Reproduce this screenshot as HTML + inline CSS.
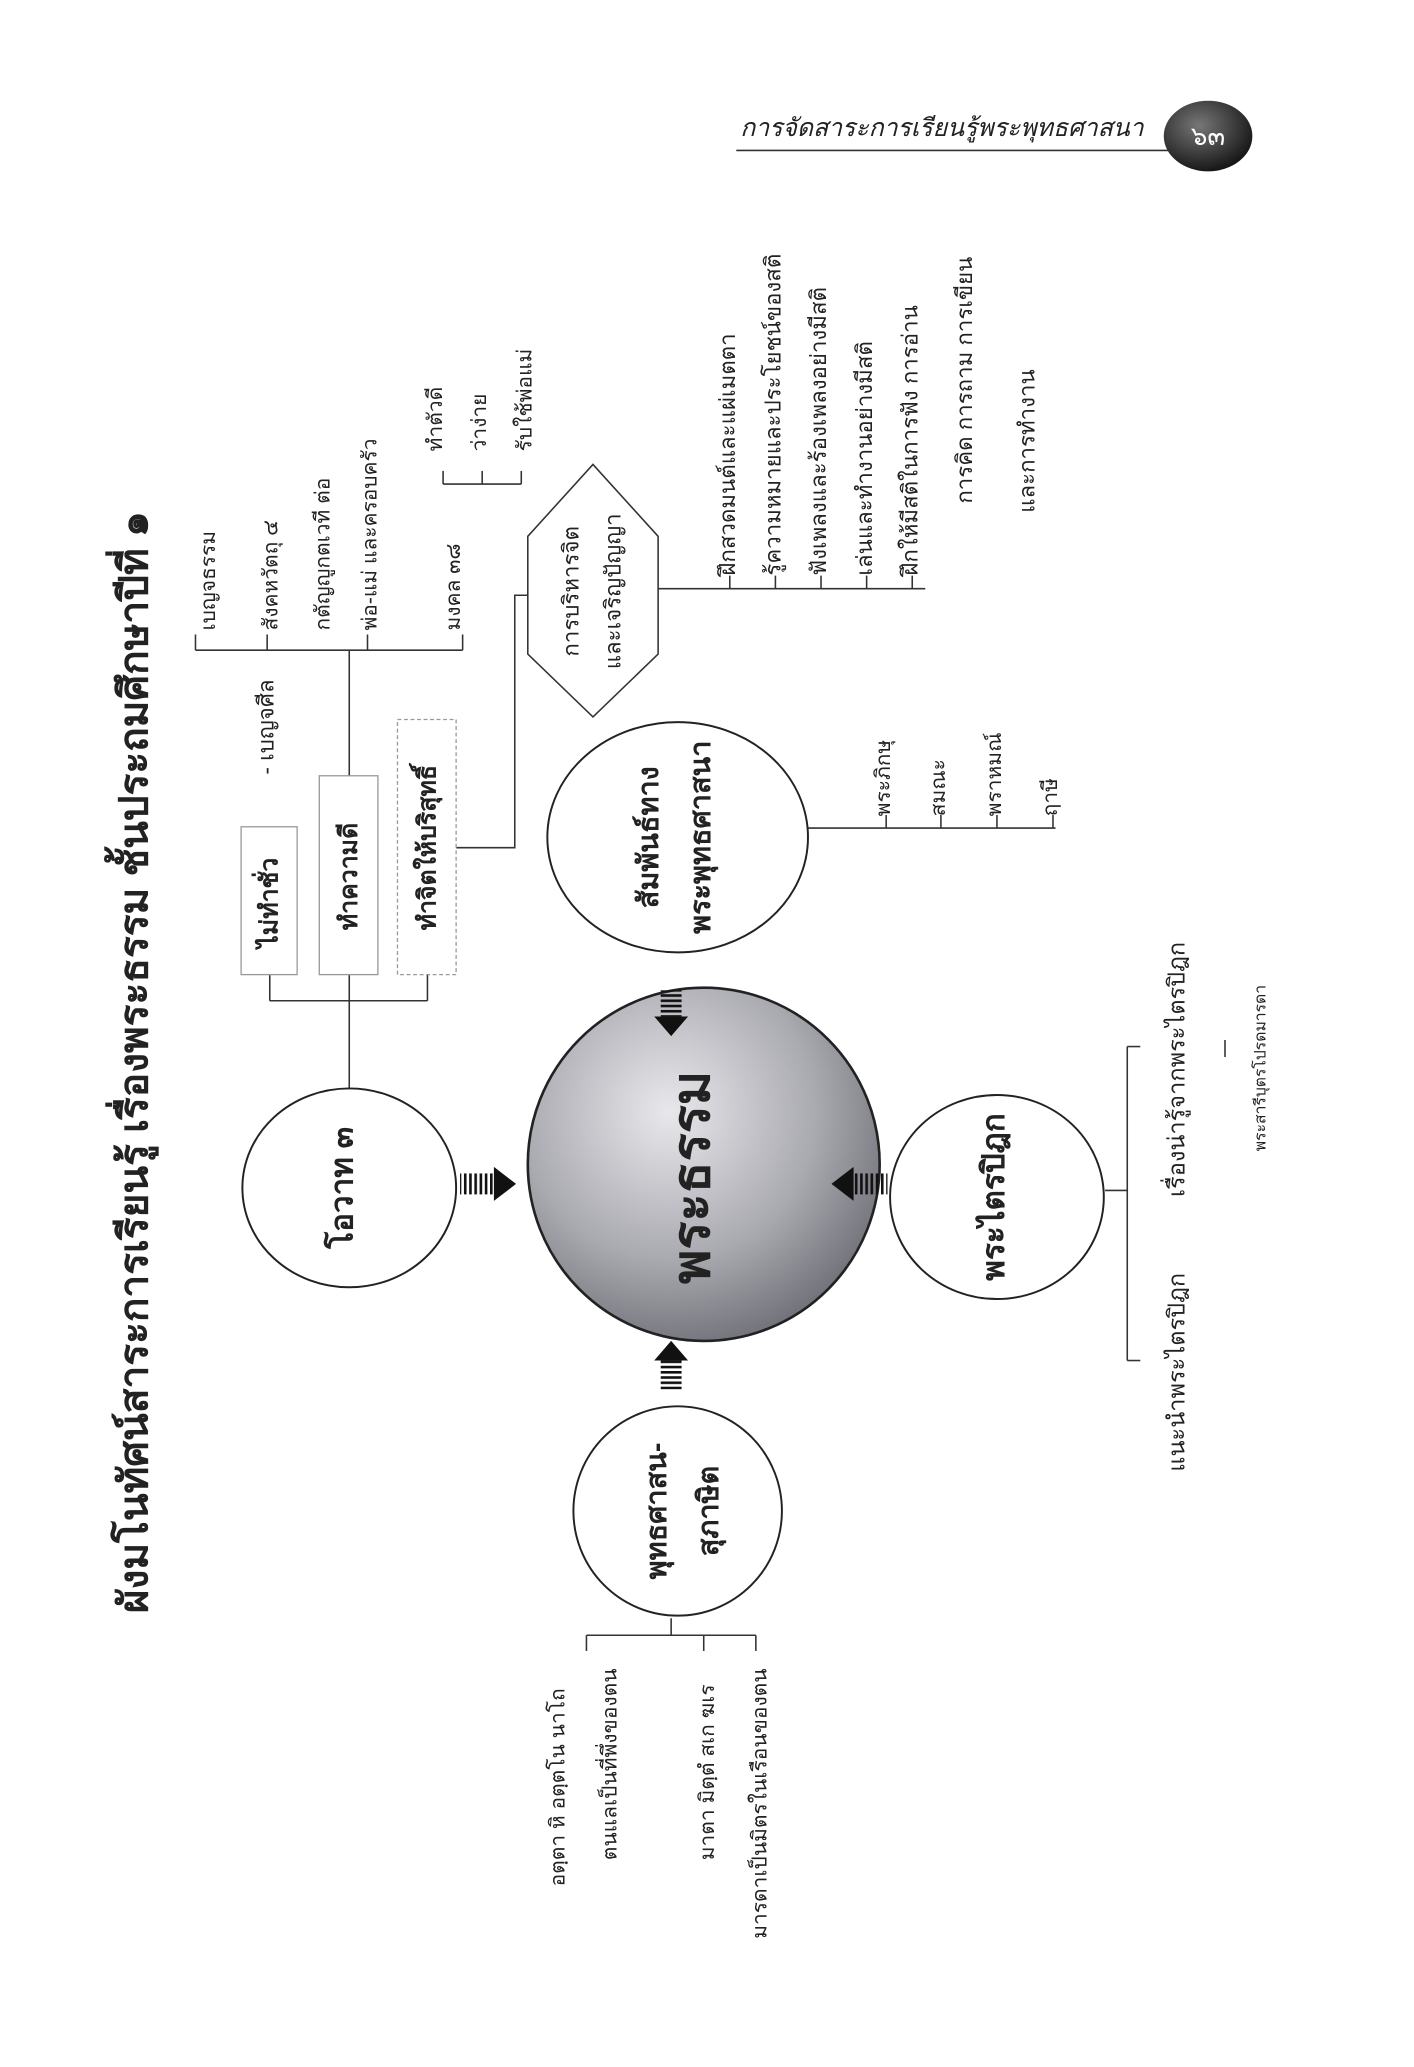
<!DOCTYPE html>
<html><head><meta charset="utf-8"><style>
html,body{margin:0;padding:0;background:#fff;}
#pg{position:relative;width:1414px;height:2067px;overflow:hidden;background:#fff;}
#c{position:absolute;left:0;top:0;width:1085px;height:1580px;transform:scale(1.3032,1.3082);transform-origin:0 0;font-family:"Liberation Sans","Noto Sans CJK SC",sans-serif;color:#222;}
svg{position:absolute;left:0;top:0;}
.t{position:absolute;white-space:nowrap;transform:rotate(-90deg);transform-origin:0 0;font-size:16px;line-height:18px;}
.m{position:absolute;white-space:nowrap;transform:translate(-50%,-50%) rotate(-90deg);text-align:center;font-weight:bold;}
</style></head><body><div id="pg"><div id="c">
<svg width="1085" height="1580" viewBox="0 0 1085 1580">
<defs>
<radialGradient id="g" cx="40%" cy="35%" r="70%"><stop offset="0" stop-color="#e8e8ec"/><stop offset="0.6" stop-color="#a9a9b0"/><stop offset="1" stop-color="#6e6e76"/></radialGradient>
<radialGradient id="g2" cx="40%" cy="35%" r="70%"><stop offset="0" stop-color="#777"/><stop offset="1" stop-color="#111"/></radialGradient>
<pattern id="st" width="4" height="4" patternUnits="userSpaceOnUse"><rect width="2" height="4" fill="#111"/></pattern>
<pattern id="sth" width="4" height="4" patternUnits="userSpaceOnUse"><rect width="4" height="2" fill="#111"/></pattern>
</defs>
<g stroke="#333" stroke-width="1.2" fill="none">
<line x1="565" y1="115" x2="900" y2="115"/>
<line x1="268" y1="833" x2="268" y2="765"/>
<line x1="207" y1="765" x2="328" y2="765"/>
<line x1="207" y1="765" x2="207" y2="745"/><line x1="268" y1="765" x2="268" y2="745"/><line x1="328" y1="765" x2="328" y2="745"/>
<line x1="268" y1="593" x2="268" y2="497"/>
<line x1="150" y1="497" x2="355" y2="497"/>
<line x1="150" y1="497" x2="150" y2="485"/><line x1="205" y1="497" x2="205" y2="485"/><line x1="282" y1="497" x2="282" y2="485"/><line x1="355" y1="497" x2="355" y2="485"/>
<line x1="340" y1="370" x2="400" y2="370"/><line x1="340" y1="370" x2="340" y2="360"/><line x1="370" y1="370" x2="370" y2="360"/><line x1="400" y1="370" x2="400" y2="360"/>
<polyline points="350,648 395,648 395,455 405,455"/>
<line x1="505" y1="450" x2="710" y2="450"/>
<line x1="560" y1="450" x2="560" y2="440"/><line x1="595" y1="450" x2="595" y2="440"/><line x1="630" y1="450" x2="630" y2="440"/><line x1="665" y1="450" x2="665" y2="440"/><line x1="700" y1="450" x2="700" y2="440"/>
<line x1="620" y1="633" x2="810" y2="633"/>
<line x1="680" y1="633" x2="680" y2="623"/><line x1="722" y1="633" x2="722" y2="623"/><line x1="765" y1="633" x2="765" y2="623"/><line x1="808" y1="633" x2="808" y2="623"/>
<line x1="848" y1="910" x2="865" y2="910"/>
<line x1="865" y1="800" x2="865" y2="1040"/>
<line x1="865" y1="800" x2="875" y2="800"/><line x1="865" y1="1040" x2="875" y2="1040"/>
<line x1="940" y1="795" x2="940" y2="808"/>
<line x1="515" y1="1237" x2="515" y2="1250"/>
<line x1="450" y1="1250" x2="580" y2="1250"/>
<line x1="450" y1="1250" x2="450" y2="1262"/><line x1="540" y1="1250" x2="540" y2="1262"/><line x1="580" y1="1250" x2="580" y2="1262"/>
</g>
<ellipse cx="927" cy="104" rx="34" ry="27" fill="url(#g2)"/>
<text x="927" y="111" font-size="20" fill="#fff" text-anchor="middle" font-family="Liberation Sans, Noto Sans CJK SC, sans-serif">๖๓</text>
<rect x="185" y="632" width="43" height="113" fill="#fff" stroke="#999" stroke-width="1"/>
<rect x="245" y="593" width="45" height="152" fill="#fff" stroke="#999" stroke-width="1"/>
<rect x="305" y="550" width="45" height="195" fill="#fff" stroke="#999" stroke-width="1" stroke-dasharray="3,2"/>
<polygon points="455,355 505,410 505,500 455,548 405,500 405,410" fill="#fff" stroke="#333" stroke-width="1.2"/>
<ellipse cx="268" cy="908" rx="82" ry="76" fill="#fff" stroke="#222" stroke-width="1.5"/>
<ellipse cx="520" cy="640" rx="100" ry="88" fill="#fff" stroke="#222" stroke-width="1.5"/>
<ellipse cx="765" cy="915" rx="82" ry="78" fill="#fff" stroke="#222" stroke-width="1.5"/>
<ellipse cx="520" cy="1155" rx="80" ry="80" fill="#fff" stroke="#222" stroke-width="1.5"/>
<circle cx="540" cy="890" r="135" fill="url(#g)" stroke="#222" stroke-width="2"/>
<rect x="353" y="897" width="26" height="16" fill="url(#st)"/><polygon points="379,892 396,905 379,918" fill="#111"/>
<rect x="507" y="757" width="16" height="20" fill="url(#sth)"/><polygon points="502,777 528,777 515,792" fill="#111"/>
<rect x="655" y="897" width="26" height="16" fill="url(#st)"/><polygon points="655,892 638,905 655,918" fill="#111"/>
<rect x="507" y="1040" width="16" height="22" fill="url(#sth)"/><polygon points="502,1040 528,1040 515,1025" fill="#111"/>
</svg>
<div class="t" style="left:568px;top:88px;transform:none;font-style:italic;font-size:19px;line-height:22px;">การจัดสาระการเรียนรู้พระพุทธศาสนา</div>
<div class="m" style="left:102px;top:812px;font-size:31px;">ผังมโนทัศน์สาระการเรียนรู้ เรื่องพระธรรม ชั้นประถมศึกษาปีที่ ๑</div>
<div class="m" style="left:262px;top:908px;font-size:24px;">โอวาท ๓</div>
<div class="m" style="left:530px;top:900px;font-size:40px;">พระธรรม</div>
<div class="m" style="left:518px;top:640px;font-size:22px;line-height:40px;">สัมพันธ์ทาง<br>พระพุทธศาสนา</div>
<div class="m" style="left:762px;top:915px;font-size:24px;">พระไตรปิฎก</div>
<div class="m" style="left:524px;top:1155px;font-size:22px;line-height:40px;">พุทธศาสน-<br>สุภาษิต</div>
<div class="m" style="left:455px;top:452px;font-size:17px;font-weight:normal;line-height:32px;">การบริหารจิต<br>และเจริญปัญญา</div>
<div class="m" style="left:207px;top:690px;font-size:19px;">ไม่ทำชั่ว</div>
<div class="m" style="left:268px;top:670px;font-size:19px;">ทำความดี</div>
<div class="m" style="left:328px;top:648px;font-size:19px;">ทำจิตให้บริสุทธิ์</div>
<div class="t" style="left:196px;top:592px;font-size:17px;">- เบญจศีล</div>
<div class="t" style="left:152px;top:482px;">เบญจธรรม</div>
<div class="t" style="left:200px;top:482px;">สังคหวัตถุ ๔</div>
<div class="t" style="left:240px;top:482px;">กตัญญูกตเวที ต่อ</div>
<div class="t" style="left:276px;top:482px;">พ่อ-แม่ และครอบครัว</div>
<div class="t" style="left:340px;top:482px;">มงคล ๓๘</div>
<div class="t" style="left:326px;top:345px;">ทำตัวดี</div>
<div class="t" style="left:360px;top:345px;">ว่าง่าย</div>
<div class="t" style="left:395px;top:345px;">รับใช้พ่อแม่</div>
<div class="t" style="left:550px;top:440px;font-size:17px;">ฝึกสวดมนต์และแผ่เมตตา</div>
<div class="t" style="left:585px;top:440px;font-size:17px;">รู้ความหมายและประโยชน์ของสติ</div>
<div class="t" style="left:620px;top:440px;font-size:17px;">ฟังเพลงและร้องเพลงอย่างมีสติ</div>
<div class="t" style="left:655px;top:440px;font-size:17px;">เล่นและทำงานอย่างมีสติ</div>
<div class="t" style="left:690px;top:440px;font-size:17px;">ฝึกให้มีสติในการฟัง การอ่าน</div>
<div class="t" style="left:732px;top:385px;font-size:17px;">การคิด การถาม การเขียน</div>
<div class="t" style="left:780px;top:392px;font-size:17px;">และการทำงาน</div>
<div class="t" style="left:670px;top:624px;">พระภิกษุ</div>
<div class="t" style="left:712px;top:624px;">สมณะ</div>
<div class="t" style="left:755px;top:624px;">พราหมณ์</div>
<div class="t" style="left:798px;top:624px;">ฤาษี</div>
<div class="t" style="left:894px;top:1125px;font-size:18px;">แนะนำพระไตรปิฎก</div>
<div class="t" style="left:894px;top:915px;font-size:18px;">เรื่องน่ารู้จากพระไตรปิฎก</div>
<div class="t" style="left:958px;top:880px;font-size:12px;">พระสารีบุตรโปรดมารดา</div>
<div class="t" style="left:420px;top:1442px;">อตฺตา หิ อตฺตโน นาโถ</div>
<div class="t" style="left:460px;top:1422px;">ตนแลเป็นที่พึ่งของตน</div>
<div class="t" style="left:535px;top:1422px;">มาตา มิตฺตํ สเก ฆเร</div>
<div class="t" style="left:575px;top:1482px;">มารดาเป็นมิตรในเรือนของตน</div>
</div></div></body></html>
